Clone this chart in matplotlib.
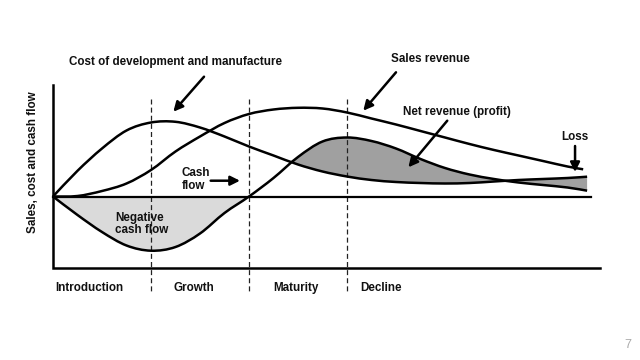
import matplotlib
matplotlib.use("Agg")
import matplotlib.pyplot as plt
from matplotlib.path import Path
from matplotlib.patches import PathPatch, Rectangle
import numpy as np

plt.rcParams['font.family'] = ['Liberation Sans', 'DejaVu Sans']

# time axis (one unit per phase) and the three curves
t = [0, 0.25, 0.5, 0.75, 1.0, 1.25, 1.5, 1.75, 2.0, 2.25, 2.5, 2.75,
     3.0, 3.25, 3.5, 3.75, 4.0, 4.25, 4.5, 4.75, 5.0, 5.25, 5.45]
cost = [0, 2.57, 4.8, 6.6, 7.4, 7.47, 6.9, 6.0, 5.0, 4.1, 3.2, 2.5,
        2.0, 1.65, 1.45, 1.35, 1.3, 1.35, 1.5, 1.65, 1.75, 1.85, 1.98]
cash = [0, -1.85, -3.55, -4.9, -5.42, -5.05, -3.7, -1.65, 0, 1.85, 3.95, 5.5,
        5.9, 5.55, 4.8, 3.75, 2.85, 2.2, 1.75, 1.4, 1.15, 0.9, 0.58]
t_sales = [0, 0.25, 0.5, 0.75, 1.0, 1.25, 1.5, 1.75, 2.0, 2.25, 2.5, 2.75,
           3.0, 3.25, 3.5, 3.75, 4.0, 4.25, 4.5, 4.75, 5.0, 5.25, 5.41]
sales = [0, 0.05, 0.55, 1.3, 2.65, 4.5, 6.0, 7.35, 8.25, 8.7, 8.87, 8.8,
         8.4, 7.8, 7.2, 6.55, 5.9, 5.25, 4.65, 4.1, 3.55, 3.0, 2.72]

# cash flow overtakes cost here (start of the profit area)
profit_start = 2.42

phases = ["Introduction", "Growth", "Maturity", "Decline"]
phase_x = [0.02, 1.23, 2.25, 3.14]
phase_bounds = [1, 2, 3]


def segments(xs, ys):
    # cubic pieces through the read points (Catmull-Rom tangents)
    p = np.column_stack([xs, ys]).astype(float)
    n = len(p)
    segs = []
    for i in range(n - 1):
        p0 = p[i - 1] if i > 0 else p[i]
        p3 = p[i + 2] if i + 2 < n else p[i + 1]
        c1 = p[i] + (p[i + 1] - p0) / 6
        c2 = p[i + 1] - (p3 - p[i]) / 6
        segs.append((p[i], c1, c2, p[i + 1]))
    return segs


def to_path(segs, closed=False, back=None):
    verts = [segs[0][0]]
    codes = [Path.MOVETO]
    for s in segs:
        verts += [s[1], s[2], s[3]]
        codes += [Path.CURVE4] * 3
    if back is not None:
        verts.append(back[-1][3])
        codes.append(Path.LINETO)
        for s in reversed(back):
            verts += [s[2], s[1], s[0]]
            codes += [Path.CURVE4] * 3
    if closed:
        verts.append(verts[0])
        codes.append(Path.CLOSEPOLY)
    return Path(verts, codes)


fig = plt.figure(figsize=(6.4, 3.6), dpi=100)
ax = fig.add_axes([0, 0, 1, 1])
ax.set_xlim(-53 / 98, 587 / 98)
ax.set_ylim(-16.35, 19.65)
ax.axis("off")

cost_segs = segments(t, cost)
cash_segs = segments(t, cash)
sales_segs = segments(t_sales, sales)

# shaded areas
neg = PathPatch(to_path(cash_segs[:8], closed=True), fc="#dadada", ec="none", zorder=1)
ax.add_patch(neg)
gain = PathPatch(to_path(cash_segs, closed=True, back=cost_segs),
                 fc="#a0a0a0", ec="none", zorder=1)
ax.add_patch(gain)
clip = Rectangle((profit_start, -20), 10, 40, transform=ax.transData)
gain.set_clip_path(clip)

# axes drawn by hand
ax.plot([0, 0, 5.58], [11.15, -7.12, -7.12], color="black", lw=1.8,
        solid_joinstyle="miter", zorder=3)
ax.plot([0, 5.49], [0, 0], color="black", lw=1.6, zorder=3)

for b in phase_bounds:
    ax.plot([b, b], [9.8, -9.5], color="#222222", lw=0.9, ls=(0, (4, 2.5)), zorder=2)

# curves
for segs in (cost_segs, cash_segs, sales_segs):
    ax.add_patch(PathPatch(to_path(segs), fc="none", ec="black", lw=1.8,
                           capstyle="butt", zorder=4))

fk = dict(fontsize=8.4, fontweight="bold", color="#111111")
ax.text(1.255, 13.45, "Cost of development and manufacture", ha="center", va="center", **fk)
ax.text(3.85, 13.75, "Sales revenue", ha="center", va="center", **fk)
ax.text(4.12, 8.48, "Net revenue (profit)", ha="center", va="center", **fk)
ax.text(5.33, 5.95, "Loss", ha="center", va="center", **fk)
ax.text(1.316, 1.7, "Cash\nflow", ha="left", va="center", linespacing=1.1, **fk)
ax.text(0.633, -2.75, "Negative\ncash flow", ha="left", va="center", linespacing=1.1, **fk)
ax.text(-0.204, 3.4, "Sales, cost and cash flow", rotation=90, ha="center", va="center", **fk)
for name, px in zip(phases, phase_x):
    ax.text(px, -9.18, name, ha="left", va="center", **fk)
ax.text(5.867, -14.85, "7", ha="center", va="center", fontsize=9, color="#aaaaaa")

# pointer arrows
arrows = [((1.541, 11.98), (1.228, 8.48)),
          ((3.5, 12.42), (3.166, 8.58)),
          ((4.023, 7.58), (3.626, 2.92)),
          ((1.609, 1.58), (1.908, 1.58)),
          ((5.327, 5.05), (5.327, 2.45))]
for start, end in arrows:
    ax.annotate("", xy=end, xytext=start,
                arrowprops=dict(arrowstyle="-|>", color="black", lw=1.8,
                                mutation_scale=14, shrinkA=0, shrinkB=0),
                zorder=5)

fig.savefig("out.png", dpi=100)
